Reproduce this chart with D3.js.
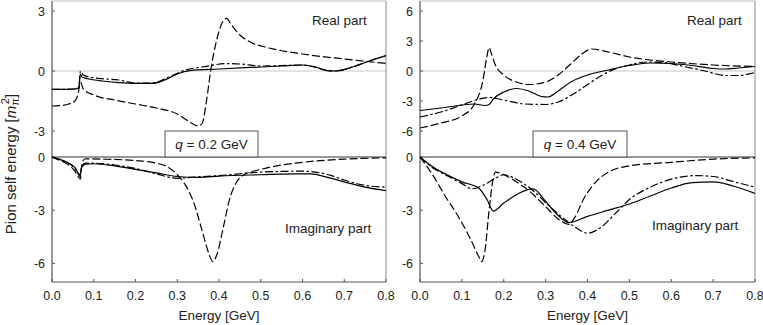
<!DOCTYPE html>
<html>
<head>
<meta charset="utf-8">
<script src="https://cdn.jsdelivr.net/npm/d3@7"></script>
<style>
  body { margin: 0; background: #fff; }
  svg { font-family: "Liberation Sans", Arial, sans-serif; }
</style>
</head>
<body>
<div id="chart"></div>
<script>
// ---- data: [energy GeV, value m_pi^2] ----
const xTicks = [0, 0.1, 0.2, 0.3, 0.4, 0.5, 0.6, 0.7, 0.8];
const reTicksLeft = [-3, 0, 3];
const reTicksRight = [-6, -3, 0, 3, 6];
const imTicks = [-6, -3, 0];
const panelLabels = ["q = 0.2 GeV", "q = 0.4 GeV"];

// q = 0.2 GeV, real part
const re02Solid = [[0,-0.92],[0.03,-0.92],[0.055,-0.9],[0.064,-0.85],[0.068,-0.15],[0.072,-0.3],[0.09,-0.4],[0.12,-0.5],[0.16,-0.58],[0.2,-0.62],[0.24,-0.62],[0.27,-0.45],[0.3,-0.15],[0.33,0.02],[0.4,0.1],[0.5,0.2],[0.55,0.25],[0.6,0.3],[0.63,0.2],[0.66,0.02],[0.68,0.0],[0.72,0.2],[0.76,0.5],[0.8,0.77]];
const re02Dash = [[0,-1.75],[0.02,-1.73],[0.04,-1.65],[0.055,-1.5],[0.063,-1.1],[0.068,-0.55],[0.075,-0.9],[0.1,-1.2],[0.15,-1.45],[0.2,-1.65],[0.25,-1.85],[0.3,-2.15],[0.33,-2.55],[0.35,-2.75],[0.36,-2.6],[0.37,-1.5],[0.38,0],[0.395,1.6],[0.41,2.5],[0.418,2.63],[0.43,2.3],[0.45,1.8],[0.48,1.4],[0.52,1.15],[0.6,0.85],[0.7,0.6],[0.8,0.38]];
const re02DashDot = [[0,-0.92],[0.055,-0.9],[0.064,-0.85],[0.068,0.0],[0.075,-0.2],[0.09,-0.3],[0.12,-0.38],[0.16,-0.45],[0.2,-0.6],[0.24,-0.6],[0.28,-0.3],[0.32,0.05],[0.36,0.2],[0.42,0.37],[0.45,0.35],[0.5,0.25],[0.6,0.3],[0.63,0.2],[0.66,0.02],[0.68,0.0],[0.72,0.2],[0.76,0.5],[0.8,0.77]];

// q = 0.2 GeV, imaginary part
const im02Solid = [[0,0],[0.02,-0.15],[0.04,-0.35],[0.055,-0.6],[0.064,-0.95],[0.067,-1.0],[0.072,-0.55],[0.08,-0.4],[0.1,-0.38],[0.15,-0.5],[0.2,-0.7],[0.25,-0.9],[0.3,-1.1],[0.35,-1.15],[0.4,-1.08],[0.5,-1.0],[0.58,-0.95],[0.62,-0.95],[0.66,-1.15],[0.7,-1.4],[0.75,-1.7],[0.8,-1.9]];
const im02Dash = [[0,0],[0.02,-0.2],[0.04,-0.45],[0.055,-0.8],[0.064,-1.15],[0.068,-1.25],[0.072,-0.3],[0.08,-0.1],[0.12,-0.12],[0.2,-0.2],[0.25,-0.35],[0.28,-0.6],[0.3,-1.0],[0.32,-1.6],[0.34,-2.6],[0.36,-4.2],[0.375,-5.4],[0.385,-5.9],[0.395,-5.5],[0.41,-4.0],[0.425,-2.4],[0.44,-1.5],[0.46,-1.0],[0.5,-0.7],[0.55,-0.45],[0.6,-0.3],[0.7,-0.12],[0.8,-0.05]];
const im02DashDot = [[0,0],[0.02,-0.15],[0.04,-0.35],[0.055,-0.65],[0.064,-1.0],[0.067,-1.1],[0.071,-0.5],[0.08,-0.35],[0.1,-0.35],[0.15,-0.45],[0.2,-0.65],[0.25,-0.95],[0.3,-1.2],[0.33,-1.15],[0.4,-1.05],[0.5,-0.85],[0.6,-0.8],[0.63,-0.85],[0.67,-1.05],[0.7,-1.3],[0.75,-1.6],[0.8,-1.7]];

// q = 0.4 GeV, real part
const re04Solid = [[0,-3.95],[0.05,-3.7],[0.1,-3.4],[0.13,-3.3],[0.155,-3.45],[0.165,-3.35],[0.175,-2.8],[0.2,-2.1],[0.23,-1.75],[0.26,-2.0],[0.29,-2.55],[0.305,-2.6],[0.33,-2.0],[0.36,-1.1],[0.4,-0.4],[0.45,0.1],[0.5,0.55],[0.55,0.8],[0.6,0.75],[0.65,0.55],[0.7,0.25],[0.73,0.2],[0.76,0.3],[0.8,0.45]];
const re04Dash = [[0,-5.7],[0.05,-5.2],[0.1,-4.5],[0.13,-3.3],[0.15,-1.0],[0.16,1.5],[0.165,2.35],[0.17,1.8],[0.18,0.6],[0.2,-0.4],[0.23,-1.1],[0.26,-1.35],[0.3,-1.1],[0.33,-0.4],[0.36,0.7],[0.39,1.8],[0.41,2.2],[0.45,1.9],[0.5,1.4],[0.55,1.1],[0.6,0.9],[0.7,0.6],[0.8,0.45]];
const re04DashDot = [[0,-4.6],[0.05,-4.1],[0.1,-3.4],[0.13,-2.95],[0.165,-2.65],[0.2,-2.9],[0.25,-3.3],[0.3,-3.35],[0.33,-3.1],[0.37,-2.2],[0.42,-0.8],[0.46,0.1],[0.5,0.6],[0.54,0.9],[0.58,0.85],[0.63,0.45],[0.68,0.0],[0.73,-0.45],[0.76,-0.45],[0.8,-0.15]];

// q = 0.4 GeV, imaginary part
const im04Solid = [[0,0],[0.03,-0.55],[0.06,-0.95],[0.1,-1.4],[0.14,-1.75],[0.16,-2.4],[0.175,-3.05],[0.2,-2.6],[0.24,-2.0],[0.27,-1.8],[0.3,-2.5],[0.33,-3.3],[0.355,-3.7],[0.4,-3.35],[0.45,-3.0],[0.5,-2.65],[0.55,-2.2],[0.6,-1.75],[0.65,-1.45],[0.7,-1.4],[0.75,-1.65],[0.8,-2.05]];
const im04Dash = [[0,0],[0.03,-1.0],[0.06,-2.2],[0.09,-3.3],[0.12,-4.6],[0.14,-5.6],[0.147,-5.9],[0.155,-5.3],[0.165,-3.0],[0.175,-1.2],[0.18,-0.85],[0.2,-1.0],[0.23,-1.4],[0.26,-1.9],[0.3,-2.8],[0.33,-3.5],[0.355,-3.8],[0.37,-3.4],[0.39,-2.4],[0.42,-1.4],[0.45,-0.85],[0.5,-0.5],[0.6,-0.3],[0.7,-0.12],[0.8,-0.05]];
const im04DashDot = [[0,0],[0.03,-0.6],[0.06,-1.0],[0.1,-1.5],[0.125,-1.8],[0.15,-1.6],[0.18,-1.2],[0.2,-1.0],[0.23,-1.25],[0.27,-1.9],[0.31,-2.8],[0.35,-3.6],[0.38,-4.1],[0.4,-4.3],[0.43,-4.0],[0.47,-3.1],[0.5,-2.4],[0.55,-1.7],[0.6,-1.25],[0.66,-1.05],[0.7,-1.1],[0.75,-1.4],[0.8,-1.7]];

// ---- layout ----
const width = 763, height = 325;
const TOP = 1, MID = 157, BOTTOM = 282;
const DASH = "8,3";
const DASHDOT = "8,2.5,2.5,2.5";
const TEXT_COLOR = "#222";
const AXIS_COLOR = "#555";

const svg = d3.select("#chart").append("svg")
    .attr("width", width)
    .attr("height", height);

const line = d3.line().curve(d3.curveMonotoneX);

function drawPanel(cfg) {
    var x = d3.scaleLinear().domain([0, 0.8]).range([cfg.left, cfg.right]);
    var yRe = d3.scaleLinear().domain(cfg.reDomain).range([MID, TOP]);
    var yIm = d3.scaleLinear().domain([-7.05, 0]).range([BOTTOM, MID]);

    var g = svg.append("g");
    var clipId = "clip" + cfg.id;
    g.append("clipPath").attr("id", clipId)
        .append("rect")
        .attr("x", cfg.left).attr("y", TOP)
        .attr("width", cfg.right - cfg.left).attr("height", BOTTOM - TOP);

    // zero line of real part
    g.append("line")
        .attr("x1", cfg.left).attr("x2", cfg.right)
        .attr("y1", yRe(0)).attr("y2", yRe(0))
        .attr("stroke", "#c8c8c8").attr("stroke-width", 1);

    // frame
    g.append("line").attr("x1", cfg.left).attr("x2", cfg.right)
        .attr("y1", TOP).attr("y2", TOP)
        .attr("stroke", "#bbb").attr("stroke-width", 1);
    g.append("line").attr("x1", cfg.right).attr("x2", cfg.right)
        .attr("y1", TOP).attr("y2", BOTTOM)
        .attr("stroke", "#888").attr("stroke-width", 1);
    g.append("line").attr("x1", cfg.left).attr("x2", cfg.left)
        .attr("y1", TOP).attr("y2", BOTTOM)
        .attr("stroke", AXIS_COLOR).attr("stroke-width", 1.2);
    g.append("line").attr("x1", cfg.left).attr("x2", cfg.right)
        .attr("y1", BOTTOM).attr("y2", BOTTOM)
        .attr("stroke", AXIS_COLOR).attr("stroke-width", 1.2);
    g.append("line").attr("x1", cfg.left).attr("x2", cfg.right)
        .attr("y1", MID).attr("y2", MID)
        .attr("stroke", "#333").attr("stroke-width", 1.1);

    // x ticks (inward) and labels
    xTicks.forEach(t => {
        g.append("line")
            .attr("x1", x(t)).attr("x2", x(t))
            .attr("y1", BOTTOM).attr("y2", BOTTOM - 3)
            .attr("stroke", AXIS_COLOR);
        g.append("text")
            .attr("x", x(t)).attr("y", BOTTOM + 18)
            .attr("text-anchor", "middle")
            .attr("font-size", 12.5).attr("fill", TEXT_COLOR)
            .text(t.toFixed(1));
    });
    g.append("text")
        .attr("x", (cfg.left + cfg.right) / 2).attr("y", 320)
        .attr("text-anchor", "middle")
        .attr("font-size", 13.5).attr("fill", TEXT_COLOR)
        .text("Energy [GeV]");

    // y ticks
    function yTicks(ticks, scale) {
        ticks.forEach(t => {
            g.append("line")
                .attr("x1", cfg.left).attr("x2", cfg.left + 3)
                .attr("y1", scale(t)).attr("y2", scale(t))
                .attr("stroke", AXIS_COLOR);
            g.append("text")
                .attr("x", cfg.left - 7).attr("y", scale(t) + 4.5)
                .attr("text-anchor", "end")
                .attr("font-size", 12.5).attr("fill", TEXT_COLOR)
                .text(t);
        });
    }
    yTicks(cfg.reTicks, yRe);
    yTicks(imTicks, yIm);

    // curves
    var curves = g.append("g").attr("clip-path", "url(#" + clipId + ")")
        .attr("fill", "none").attr("stroke", "#000").attr("stroke-width", 1.2);
    [[cfg.re, yRe], [cfg.im, yIm]].forEach(([set, yScale]) => {
        [[set[0], null], [set[1], DASH], [set[2], DASHDOT]].forEach(([pts, dash]) => {
            line.x(d => x(d[0])).y(d => yScale(d[1]));
            var p = curves.append("path").attr("d", line(pts));
            if (dash) p.attr("stroke-dasharray", dash);
        });
    });

    // labels
    g.append("text")
        .attr("x", cfg.realX).attr("y", 25)
        .attr("font-size", 13.5).attr("fill", TEXT_COLOR)
        .text("Real part");
    g.append("text")
        .attr("x", cfg.imagX).attr("y", cfg.imagY)
        .attr("font-size", 13.5).attr("fill", TEXT_COLOR)
        .text("Imaginary part");

    // q box
    g.append("rect")
        .attr("x", cfg.boxX).attr("y", 131)
        .attr("width", cfg.boxW).attr("height", MID - 131)
        .attr("fill", "#fff").attr("stroke", "#555").attr("stroke-width", 1);
    var qt = g.append("text")
        .attr("x", cfg.boxX + cfg.boxW / 2).attr("y", 149)
        .attr("text-anchor", "middle")
        .attr("font-size", 13.5).attr("fill", TEXT_COLOR);
    var parts = cfg.label.split(" = ");
    qt.append("tspan").attr("font-style", "italic").text(parts[0]);
    qt.append("tspan").text(" = " + parts[1]);
}

drawPanel({
    id: "L", left: 52, right: 386, reDomain: [-4.3, 3.5], reTicks: reTicksLeft,
    re: [re02Solid, re02Dash, re02DashDot], im: [im02Solid, im02Dash, im02DashDot],
    realX: 312, imagX: 285, imagY: 233, boxX: 165, boxW: 93, label: panelLabels[0]
});
drawPanel({
    id: "R", left: 420, right: 755, reDomain: [-8.6, 7.0], reTicks: reTicksRight,
    re: [re04Solid, re04Dash, re04DashDot], im: [im04Solid, im04Dash, im04DashDot],
    realX: 687, imagX: 652, imagY: 230, boxX: 533, boxW: 94, label: panelLabels[1]
});

// shared y label
var yl = svg.append("text")
    .attr("transform", "translate(16,164) rotate(-90)")
    .attr("text-anchor", "middle")
    .attr("font-size", 15).attr("fill", TEXT_COLOR);
yl.append("tspan").text("Pion self energy [");
yl.append("tspan").attr("font-style", "italic").text("m");
yl.append("tspan").attr("font-size", 11).attr("dy", 3).text("\u03c0");
yl.append("tspan").attr("font-size", 11).attr("dy", -10).attr("dx", -6).text("2");
yl.append("tspan").attr("dy", 7).text("]");
</script>
</body>
</html>
